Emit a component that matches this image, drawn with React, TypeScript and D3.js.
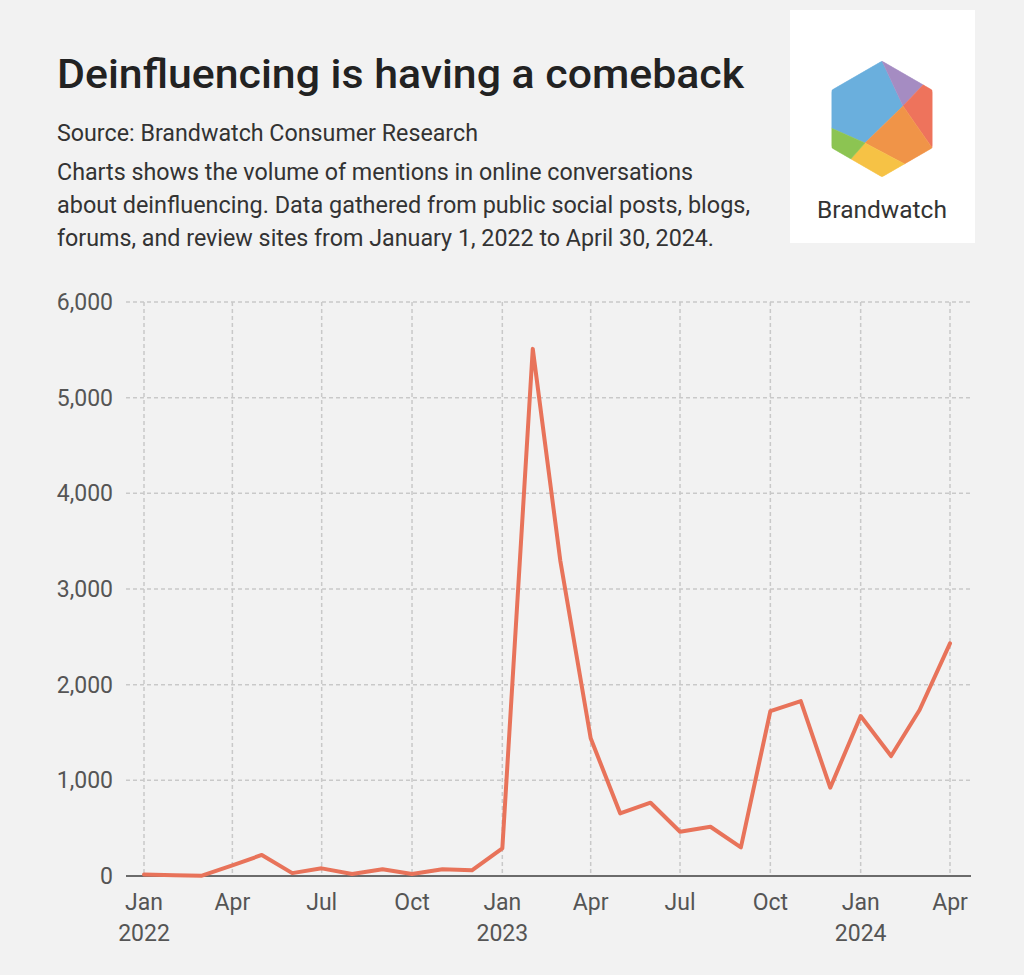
import React from "react";
import * as d3 from "d3";

const months: string[] = [
  "2022-01", "2022-02", "2022-03", "2022-04", "2022-05", "2022-06",
  "2022-07", "2022-08", "2022-09", "2022-10", "2022-11", "2022-12",
  "2023-01", "2023-02", "2023-03", "2023-04", "2023-05", "2023-06",
  "2023-07", "2023-08", "2023-09", "2023-10", "2023-11", "2023-12",
  "2024-01", "2024-02", "2024-03", "2024-04",
];
const mentions: number[] = [
  15, 8, 3, 110, 220, 30, 80, 20, 70, 20, 70, 60,
  290, 5510, 3300, 1440, 655, 766, 463, 515, 300, 1724, 1829, 923,
  1672, 1254, 1735, 2432,
];
const yTicks: number[] = [0, 1000, 2000, 3000, 4000, 5000, 6000];
const xTickMonths: string[] = ["2022-01", "2022-04", "2022-07", "2022-10", "2023-01", "2023-04", "2023-07", "2023-10", "2024-01", "2024-04"];

const title = "Deinfluencing is having a comeback";
const source = "Source: Brandwatch Consumer Research";
const descLines: string[] = [
  "Charts shows the volume of mentions in online conversations",
  "about deinfluencing. Data gathered from public social posts, blogs,",
  "forums, and review sites from January 1, 2022 to April 30, 2024.",
];
const descWidths: number[] = [636, 693, 657];

const parse = d3.timeParse("%Y-%m");

export default function App() {
  const W = 1024, H = 975;
  const font = "Roboto, 'Noto Sans', sans-serif";
  const x = d3.scaleTime()
    .domain([parse("2022-01")!, parse("2024-04")!])
    .range([144, 950]);
  const y = d3.scaleLinear().domain([0, 6000]).range([876, 302]);
  const data = months.map((m, i) => ({ d: parse(m)!, v: mentions[i] }));
  const line = d3.line<{ d: Date; v: number }>().x(p => x(p.d)).y(p => y(p.v));
  const fmt = d3.format(",");
  const monthFmt = d3.timeFormat("%b");

  // logo geometry
  const cx = 882, cy = 119, r = 58;
  const hexPts = (rad: number) => d3.range(6).map(i => {
    const a = -Math.PI / 2 + i * Math.PI / 3;
    return [cx + rad * Math.cos(a), cy + rad * Math.sin(a)];
  });
  const hex = hexPts(r);
  const hexInner = hexPts(r - 5);
  const C: number[] = [903, 106];
  const G: number[] = [865, 143];
  const [T, UR, LR, B, LL, UL] = hex;
  const lerp = (p: number[], q: number[], t: number) => [p[0] + (q[0] - p[0]) * t, p[1] + (q[1] - p[1]) * t];
  const pTopR = lerp(T, UR, 0.82);
  const pLR = lerp(UR, LR, 1.0);
  const pBotR = lerp(B, LR, 0.45);
  const pLL = lerp(B, LL, 0.62);
  const pLeft = lerp(UL, LL, 0.66);
  const poly = (pts: number[][]) => "M" + pts.map(p => p.join(",")).join("L") + "Z";
  const pieces = [
    { c: "#6aafdd", pts: [T, C, G, pLeft, UL] },
    { c: "#a58cc2", pts: [T, pTopR, C] },
    { c: "#ee735c", pts: [pTopR, UR, pLR, C] },
    { c: "#f09448", pts: [C, pLR, pBotR, G] },
    { c: "#f6c245", pts: [G, pBotR, B, pLL] },
    { c: "#8cc452", pts: [pLeft, G, pLL, LL] },
  ];

  const tickColor = "#555";
  const tickSize = 23;

  return (
    <div style={{ position: "absolute", left: 0, top: 0 }}>
      <svg width={W} height={H} style={{ display: "block", fontFamily: font }}>
        <defs>
          <mask id="hexmask">
            <path d={poly(hexInner)} fill="#fff" stroke="#fff" strokeWidth={10} strokeLinejoin="round" />
          </mask>
        </defs>
        <rect x={0} y={0} width={W} height={H} fill="#f2f2f2" />
        <text x={57} y={88} fontSize={40} fontWeight={500} fill="#222" textLength={687} lengthAdjust="spacingAndGlyphs">{title}</text>
        <text x={57} y={141} fontSize={23} fill="#333" textLength={421} lengthAdjust="spacingAndGlyphs">{source}</text>
        {descLines.map((l, i) => (
          <text key={i} x={57} y={180 + i * 33} fontSize={23} fill="#333" textLength={descWidths[i]} lengthAdjust="spacingAndGlyphs">{l}</text>
        ))}

        {/* logo */}
        <rect x={790} y={10} width={185} height={233} fill="#ffffff" />
        <g mask="url(#hexmask)">
          {pieces.map((p, i) => (
            <path key={i} d={poly(p.pts)} fill={p.c} stroke={p.c} strokeWidth={0.5} />
          ))}
        </g>
        <text x={882} y={218} fontSize={24.5} fill="#333" textAnchor="middle">Brandwatch</text>

        {/* grid */}
        {yTicks.filter(t => t > 0).map(t => (
          <line key={"h" + t} x1={126} x2={972} y1={y(t)} y2={y(t)} stroke="#c9c9c9" strokeWidth={1.5} strokeDasharray="4 3" />
        ))}
        {xTickMonths.map(m => (
          <line key={"v" + m} x1={x(parse(m)!)} x2={x(parse(m)!)} y1={302} y2={876} stroke="#c9c9c9" strokeWidth={1.5} strokeDasharray="4 3" />
        ))}
        {/* y labels */}
        {yTicks.map(t => (
          <text key={"yl" + t} x={113} y={y(t)} dy="0.35em" textAnchor="end" fontSize={tickSize} fill={tickColor}>{fmt(t)}</text>
        ))}
        {/* x labels */}
        {xTickMonths.map(m => {
          const d = parse(m)!;
          return (
            <g key={"xl" + m}>
              <text x={x(d)} y={910} textAnchor="middle" fontSize={tickSize} fill={tickColor}>{monthFmt(d)}</text>
              {d.getMonth() === 0 && (
                <text x={x(d)} y={941} textAnchor="middle" fontSize={tickSize} fill={tickColor}>{d.getFullYear()}</text>
              )}
            </g>
          );
        })}
        {/* axis */}
        <line x1={126} x2={971} y1={876} y2={876} stroke="#6b6b6b" strokeWidth={2} />
        {/* line */}
        <path d={line(data)!} fill="none" stroke="#e8735a" strokeWidth={4} strokeLinejoin="round" strokeLinecap="round" />
      </svg>
    </div>
  );
}
